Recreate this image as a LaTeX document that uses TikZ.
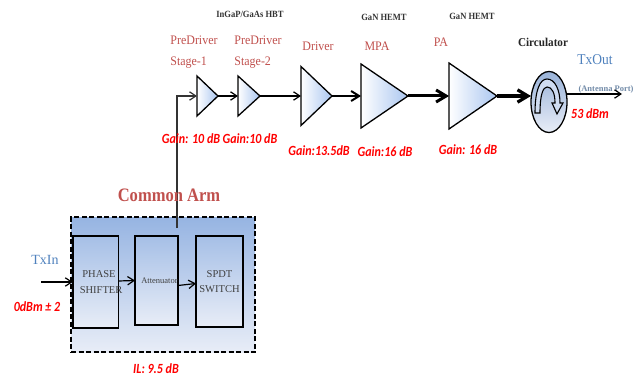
\documentclass[tikz,border=0pt]{standalone}
\usepackage{fontspec}
\setmainfont{Liberation Serif}
\newfontfamily\gainfont{Carlito}
\usepackage{tikz}
\usetikzlibrary{arrows.meta,calc,positioning,shapes.geometric}
\definecolor{stagered}{RGB}{192,80,77}
\definecolor{portblue}{RGB}{79,129,189}
\definecolor{gainred}{RGB}{255,0,0}
\definecolor{armtop}{RGB}{150,180,226}
\definecolor{armbottom}{RGB}{232,237,247}
\definecolor{ampblue}{RGB}{170,198,240}
\tikzset{
  amp/.style={isosceles triangle,isosceles triangle stretches,shape border rotate=0,draw,line width=1.3pt,
    left color=white,right color=ampblue,inner sep=0pt,outer sep=0pt,anchor=lower side},
  blockbox/.style={draw,line width=1.5pt,top color=armtop!85!white,bottom color=armbottom,inner sep=0pt,outer sep=0pt,
    font=\fontsize{10.5}{12.5}\selectfont,text=black!75,align=center},
  stagelabel/.style={text=stagered,font=\fontsize{13}{21}\selectfont,align=left,xscale=.92},
  techlabel/.style={font=\fontsize{9.5}{11}\bfseries\selectfont,text=black!80,xscale=.9},
  gainlabel/.style={text=gainred,font=\gainfont\fontsize{14}{16}\bfseries\itshape\selectfont,xscale=.86},
  wire/.style={->,line width=1.2pt}
}
\begin{document}
\begin{tikzpicture}[>={Straight Barb[length=4pt 2 0,width=6pt 2 0]},x=1pt,y=-1pt]
  \useasboundingbox (0,0) rectangle (639,377);
  % common arm
  \node[draw,dash pattern=on 5pt off 2.5pt,line width=1.4pt,top color=armtop,bottom color=armbottom,minimum width=184pt,minimum height=135pt,inner sep=0pt] (arm) at (163,284.5) {};
  \node[blockbox,text width=45.5pt,minimum height=92pt] (shifter) at (95.5,282) {\hspace*{7pt}PHASE\\[3pt]\hspace*{7pt}SHIFTER};
  \node[blockbox,minimum width=43pt,minimum height=89pt,font=\fontsize{8.5}{11}\selectfont] (atten) at (156.5,280.5) {\hspace*{6pt}Attenuator};
  \node[blockbox,minimum width=47pt,minimum height=91pt] (spdt) at (219.5,281.5) {SPDT\\[3pt]SWITCH};
  % amplifier chain
  \node[amp,minimum width=40pt,minimum height=21pt] (pd1) at (197,96) {};
  \node[amp,minimum width=40pt,minimum height=22pt] (pd2) at (238,96) {};
  \node[amp,minimum width=59pt,minimum height=31pt] (drv) at (301,96) {};
  \node[amp,minimum width=64pt,minimum height=47pt] (mpa) at (361,96) {};
  \node[amp,minimum width=66pt,minimum height=48pt] (pa) at (449,96) {};
  \node[ellipse,draw,line width=1.3pt,top color=ampblue!90!black,bottom color=armbottom,minimum width=36pt,minimum height=61pt,inner sep=0pt,outer sep=0pt] (circ) at (549,102) {};
  \draw[line width=1.1pt,fill=armbottom!70!armtop] (535,113) .. controls (535,90) and (540,79) .. (547,79) .. controls (555,79) and (560,90) .. (560,103) -- (563,103) -- (557,114) -- (552,103) -- (555,103) .. controls (555,93) and (552,87) .. (547,87) .. controls (543,87) and (540,95) .. (540,113) -- cycle;
  \node[text=portblue!70!black!70,font=\fontsize{8.5}{10}\bfseries\selectfont] (antenna) at (606,89) {(Antenna Port)};
  \coordinate (inport) at (41,282);
  \coordinate (riser) at (177,228);
  \coordinate (outport) at (622,94);
  % connectors
  \draw[wire] (inport) -- (shifter.west);
  \draw[wire] ($(shifter.east)+(0,-1)$) -- (atten.west);
  \draw[wire] ($(atten.east)+(0,5)$) -- ($(spdt.west)+(0,2)$);
  \draw[line width=1.2pt,->,black!80] (riser) |- (pd1.lower side);
  \draw[wire] (pd1.apex) -- (pd2.lower side);
  \draw[wire] (pd2.apex) -- (drv.lower side);
  \draw[->,line width=2pt] (drv.apex) -- (mpa.lower side);
  \draw[->,line width=3pt] (mpa.apex) -- (pa.lower side);
  \draw[->,line width=3.2pt] (pa.apex) -- (circ.west |- pa.apex);
  \draw[wire] (circ.east |- outport) -- (outport);
  % labels
  \node[text=stagered,font=\fontsize{19}{24}\bfseries\selectfont,xscale=.87] (armlabel) at (169,195) {Common Arm};
  \node[text=portblue,font=\fontsize{14}{16}\selectfont] (txin) at (45,260) {TxIn};
  \node[text=portblue,font=\fontsize{15}{17}\selectfont,xscale=.9] (txout) at (595,60) {TxOut};
  \node[stagelabel] (pd1label) at (194,52) {PreDriver\\Stage-1};
  \node[stagelabel] (pd2label) at (258,52) {PreDriver\\Stage-2};
  \node[stagelabel] (drvlabel) at (318,46) {Driver};
  \node[stagelabel] (mpalabel) at (377,46) {MPA};
  \node[stagelabel] (palabel) at (441,42) {PA};
  \node[font=\fontsize{12}{14}\bfseries\selectfont,text=black!85,xscale=.93] (circlabel) at (543,42) {Circulator};
  \node[techlabel] (hbtlabel) at (250,14) {InGaP/GaAs HBT};
  \node[techlabel] (hemtlabel) at (384,17) {GaN HEMT};
  \node[techlabel] (hemtlabeltwo) at (472,16) {GaN HEMT};
  \node[gainlabel] (pd1gain) at (191,139) {Gain: 10 dB};
  \node[gainlabel] (pd2gain) at (250,139) {Gain:10 dB};
  \node[gainlabel] (drvgain) at (319,151) {Gain:13.5dB};
  \node[gainlabel] (mpagain) at (385,152) {Gain:16 dB};
  \node[gainlabel] (pagain) at (468,150) {Gain: 16 dB};
  \node[gainlabel] (txgain) at (590,114) {53 dBm};
  \node[gainlabel] (ingain) at (37,307) {0dBm ± 2};
  \node[gainlabel] (armloss) at (156,369) {IL: 9.5 dB};
\end{tikzpicture}
\end{document}
